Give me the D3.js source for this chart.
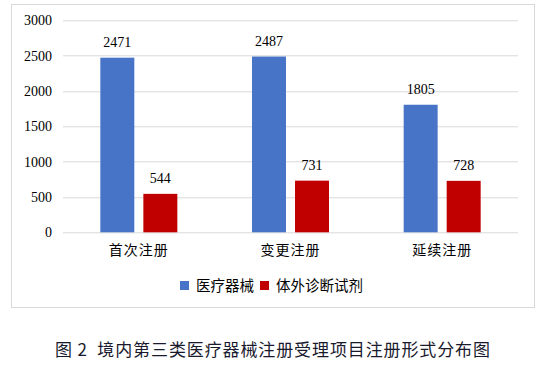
<!DOCTYPE html>
<html>
<head>
<meta charset="utf-8">
<script src="https://cdn.jsdelivr.net/npm/d3@7"></script>
<style>
  body { margin: 0; background: #fff; }
</style>
</head>
<body>
<div id="chart-area"></div>
<script>
// data
var categories = ["首次注册", "变更注册", "延续注册"];
var seriesNames = ["医疗器械", "体外诊断试剂"];
var devices = [2471, 2487, 1805];
var ivd = [544, 731, 728];
var yTicks = [0, 500, 1000, 1500, 2000, 2500, 3000];
var caption = "图 2  境内第三类医疗器械注册受理项目注册形式分布图";

var colors = ["#4874C8", "#C00000"];
var serif = "'Liberation Serif', 'Times New Roman', serif";
var cjk = "'Noto Sans CJK SC', sans-serif";

var W = 553, H = 372;
var width = 518 - 63, height = 232.3 - 20.3;

var svg = d3.select("#chart-area")
    .append("svg")
    .attr("width", W)
    .attr("height", H);

// chart frame
svg.append("rect")
    .attr("x", 11.5).attr("y", 4.5)
    .attr("width", 523).attr("height", 303)
    .attr("fill", "none")
    .attr("stroke", "#d9d9d9");

var g = svg.append("g")
    .attr("transform", "translate(63, 20.3)");

var y = d3.scaleLinear().domain([0, 3000]).range([height, 0]);
var x0 = d3.scaleBand().domain(categories).range([0, width]);
var x1 = d3.scaleBand().domain(seriesNames)
    .range([x0.bandwidth() / 2 - 38.5, x0.bandwidth() / 2 + 38.5])
    .paddingInner(0.21);

// gridlines
g.selectAll("line.grid")
    .data(yTicks)
    .enter().append("line")
        .attr("class", "grid")
        .attr("x1", 0).attr("x2", width)
        .attr("y1", function(d) { return Math.round(y(d)) + 0.5; })
        .attr("y2", function(d) { return Math.round(y(d)) + 0.5; })
        .attr("stroke", "#d9d9d9");

// y axis labels
g.selectAll("text.ytick")
    .data(yTicks)
    .enter().append("text")
        .attr("x", -11)
        .attr("y", function(d) { return y(d); })
        .attr("dy", "0.35em")
        .attr("text-anchor", "end")
        .attr("font-family", serif)
        .attr("font-size", 14)
        .attr("fill", "#000")
        .text(function(d) { return d; });

var rows = categories.map(function(c, i) {
    return { cat: c, vals: [
        { name: seriesNames[0], v: devices[i], c: colors[0] },
        { name: seriesNames[1], v: ivd[i], c: colors[1] }
    ] };
});

var groups = g.selectAll("g.cat")
    .data(rows)
    .enter().append("g")
        .attr("transform", function(d) { return "translate(" + x0(d.cat) + ",0)"; });

groups.selectAll("rect")
    .data(function(d) { return d.vals; })
    .enter().append("rect")
        .attr("x", function(d) { return x1(d.name); })
        .attr("width", x1.bandwidth())
        .attr("y", function(d) { return y(d.v); })
        .attr("height", function(d) { return height - y(d.v); })
        .attr("fill", function(d) { return d.c; });

groups.selectAll("text.val")
    .data(function(d) { return d.vals; })
    .enter().append("text")
        .attr("class", "val")
        .attr("x", function(d) { return x1(d.name) + x1.bandwidth() / 2; })
        .attr("y", function(d) { return y(d.v) - 11; })
        .attr("text-anchor", "middle")
        .attr("font-family", serif)
        .attr("font-size", 14)
        .attr("fill", "#000")
        .text(function(d) { return d.v; });

// category labels
groups.append("text")
    .attr("x", x0.bandwidth() / 2)
    .attr("y", height + 23)
    .attr("text-anchor", "middle")
    .attr("font-family", cjk)
    .attr("font-size", 14)
    .attr("letter-spacing", 1)
    .attr("fill", "#000")
    .text(function(d) { return d.cat; });

// legend
var legend = svg.append("g").attr("transform", "translate(180, 281)");
var lx = [0, 80];
seriesNames.forEach(function(s, i) {
    legend.append("rect")
        .attr("x", lx[i]).attr("y", 0)
        .attr("width", 9).attr("height", 9)
        .attr("fill", colors[i]);
    legend.append("text")
        .attr("x", lx[i] + 16).attr("y", 9.5)
        .attr("font-family", cjk)
        .attr("font-size", 14.5)
        .attr("fill", "#000")
        .text(s);
});

// caption
svg.append("text")
    .attr("x", 55)
    .attr("y", 356)
    .attr("font-family", cjk)
    .attr("font-size", 17)
    .attr("fill", "#1a1a2e")
    .attr("textLength", 435)
    .attr("lengthAdjust", "spacing")
    .style("white-space", "pre")
    .text(caption);
</script>
</body>
</html>
